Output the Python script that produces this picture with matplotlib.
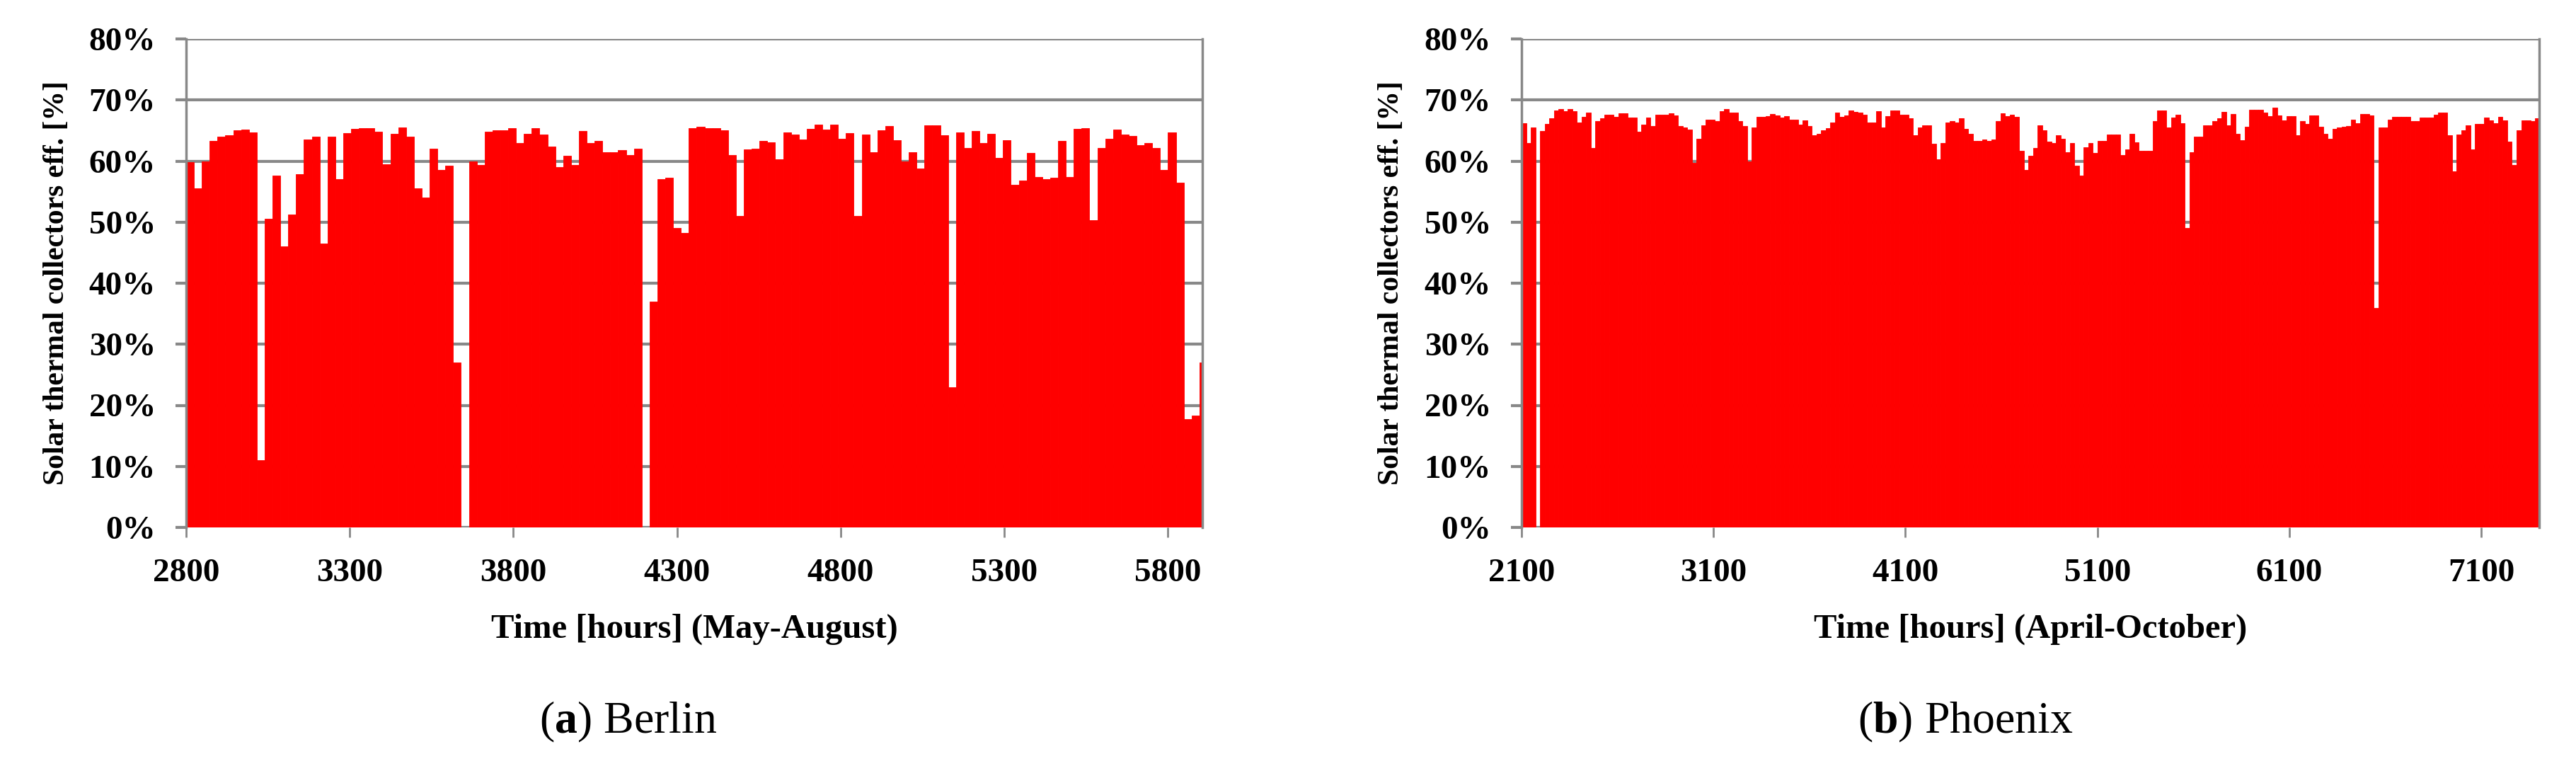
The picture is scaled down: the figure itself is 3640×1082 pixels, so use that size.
import matplotlib
matplotlib.use("Agg")
import matplotlib.pyplot as plt
import numpy as np

plt.rcParams['mathtext.fontset'] = 'custom'
plt.rcParams['mathtext.rm'] = 'Liberation Serif'
plt.rcParams['mathtext.bf'] = 'Liberation Serif:bold'

# Daily peak collector efficiency [%], one value per day
berlin_start = 2800
berlin_end = 5905
berlin_peaks = [59.8, 55.5, 60, 63.3, 64, 64.2, 65, 65.2, 64.7, 11, 50.5, 57.6, 46, 51.3, 57.8, 63.5,
                64, 46.5, 64, 57, 64.6, 65.3, 65.4, 65.4, 64.8, 59.5, 64.5, 65.5, 64, 55.5, 54, 62,
                58.5, 59.3, 27, 0, 60, 59.4, 64.8, 65, 65, 65.4, 63, 64.5, 65.4,
                64.4, 62.4, 59, 60.9, 59.4, 64.9, 63, 63.3, 61.5, 61.4, 61.8, 61, 62, 0, 37, 57,
                57.3, 49, 48.2, 65.4, 65.6, 65.4, 65.4, 65, 61, 51, 61.9, 62, 63.3, 63.1, 60.3,
                64.7, 64.4, 63.5, 65.3, 66, 65.2, 66, 63.6, 64.6, 51, 64.4, 61.5, 65, 65.7, 63.4,
                59.9, 61.5, 58.8, 65.8, 65.9, 64.2, 23, 64.7, 62.2, 64.9,
                63, 64.5, 60.5, 63.4, 56.1, 56.8, 61.3, 57.4, 57.1, 57.3, 63.3, 57.4, 65.3, 65.4,
                50.3, 62.2, 63.6, 65.2, 64.3, 64.1, 62.6, 63, 62.2, 58.6, 64.7, 56.5, 17.7, 18.3, 27]

phoenix_start = 2100
phoenix_end = 7402
phoenix_peaks = [66.2, 62.9, 65.5, 0, 64.9, 66.1, 67, 68.3, 68.5, 68.2, 68.5, 68.2, 66.3, 67.3, 67.9,
                 62.2, 66.6, 67, 67.6, 67.6, 67.2, 67.8, 67.8, 67.1, 67.1, 64.8, 66, 67.1, 65.7,
                 67.6, 67.6, 67.6, 67.8, 67.5, 65.7, 65.5, 65.2, 59.7, 63.6, 65.9, 66.8, 66.8,
                 66.6, 68.2, 68.5, 67.9, 67.9, 66.5, 65.7, 59.9, 65.5, 67.2, 67.2, 67.4, 67.7,
                 67.5, 67.1, 67.4, 66.8, 66.8, 66, 66.7, 65.7, 64.2, 64.5, 65.1, 65.4, 66.3, 67.9,
                 67.2, 67.5, 68.3, 68.1, 67.9, 67.6, 66.3, 66.3, 68.2, 65.5, 67.4, 68.3, 68.3,
                 67.6, 67.6, 67, 64.2, 65.5, 65.9, 65.9, 62.8, 60.3, 62.9, 66.3, 66.5, 66.3, 67,
                 65.3, 64.5, 63.3, 63.3, 63.5, 63.3, 63.5, 66.5, 67.8, 67.4, 67.6, 67.3, 61.7,
                 58.6, 60.9, 62.2, 65.9,
                 65, 63.2, 62.9, 64.2, 63.7, 61.5, 62.9, 59.3, 57.6, 62.3, 63, 61.3, 63.3, 63.3,
                 64.3, 64.3, 64.3, 61, 61.9, 64.5, 63.1, 61.7, 61.7, 61.7, 66.5, 68.3, 68.3, 65.5,
                 67.1, 67.6, 66.2, 49, 61.5, 64, 64, 65.9, 65.9, 66.5, 67, 68.1, 65.9, 67.7, 64.5,
                 63.4, 65.6, 68.4, 68.4, 68.4, 68, 67.4, 68.8, 67.5, 66.7, 67.4, 67.4, 64.2, 66.5,
                 66.1, 67.5, 67.5, 65.6, 64.5, 63.6, 65.3, 65.5, 65.6, 65.7, 66.8, 66.2, 67.7,
                 67.7, 67.5, 36, 65.5, 65.5, 66.8, 67.2, 67.2, 67.2, 67.2, 66.5, 66.5, 67.1, 67.1,
                 67.1, 67.6, 67.9, 67.9, 64.2, 58.3, 64.3, 65, 65.9, 61.9, 66.1, 66.1, 67.1, 66.7,
                 66.2, 67.3, 66.7, 63.2, 59.4, 65, 66.7, 66.7, 66.5, 67]

berlin_ticks = [2800, 3300, 3800, 4300, 4800, 5300, 5800]
phoenix_ticks = [2100, 3100, 4100, 5100, 6100, 7100]
y_ticks = [0, 10, 20, 30, 40, 50, 60, 70, 80]
ylabel = "Solar thermal collectors eff. [%]"
berlin_xlabel = "Time [hours] (May-August)"
phoenix_xlabel = "Time [hours] (April-October)"
captions = ["($\\mathbf{a}$) Berlin", "($\\mathbf{b}$) Phoenix"]

W, H = 3640, 1082
fig = plt.figure(figsize=(W / 100, H / 100), dpi=100)
GRAY = '#888888'
SERIF = ['Liberation Serif', 'DejaVu Serif']

panels = [
    (263, 1699, berlin_start, berlin_end, berlin_peaks, berlin_ticks, berlin_xlabel, 80, 888, captions[0]),
    (2150, 3588, phoenix_start, phoenix_end, phoenix_peaks, phoenix_ticks, phoenix_xlabel, 1966, 2777, captions[1]),
]
top_px, bot_px = 55, 745
for (l, r, x0, x1, peaks, ticks, xlab, ylab_x, cap_x, cap) in panels:
    ax = fig.add_axes([l / W, 1 - bot_px / H, (r - l) / W, (bot_px - top_px) / H])
    hours = x0 + 12 + 24 * np.arange(len(peaks))
    ax.bar(hours, peaks, width=24, color='#ff0000', edgecolor='#ff0000', linewidth=0.6, zorder=2)
    ax.set_xlim(x0, x1)
    ax.set_ylim(0, 80)
    ax.set_yticks(y_ticks)
    ax.set_yticklabels([f"{v}%" for v in y_ticks])
    ax.set_xticks(ticks)
    ax.set_xticklabels([str(t) for t in ticks])
    ax.grid(axis='y', color=GRAY, lw=3, zorder=0)
    ax.set_axisbelow(True)
    for s in ['top', 'bottom']:
        ax.spines[s].set_visible(False)
    for s in ['left', 'right']:
        ax.spines[s].set_color(GRAY)
        ax.spines[s].set_linewidth(2.5)
        ax.spines[s].set_zorder(3)
    ax.tick_params(axis='y', length=11, width=3, color=GRAY, pad=20)
    ax.tick_params(axis='x', length=10, width=2, color=GRAY, pad=22)
    for lab in ax.get_xticklabels() + ax.get_yticklabels():
        lab.set_fontfamily(SERIF)
        lab.set_fontweight('bold')
        lab.set_fontsize(34)
    ax.set_xlabel(xlab, fontsize=35, fontweight='bold', family=SERIF, labelpad=25)
    fig.text(ylab_x / W, 1 - 400 / H, ylabel, rotation=90, ha='center', va='center',
             fontsize=30, fontweight='bold', family=SERIF)
    fig.text(cap_x / W, 1 - 1020 / H, cap, ha='center', va='center', fontsize=46, family=SERIF)

fig.savefig("out.png", dpi=100)
